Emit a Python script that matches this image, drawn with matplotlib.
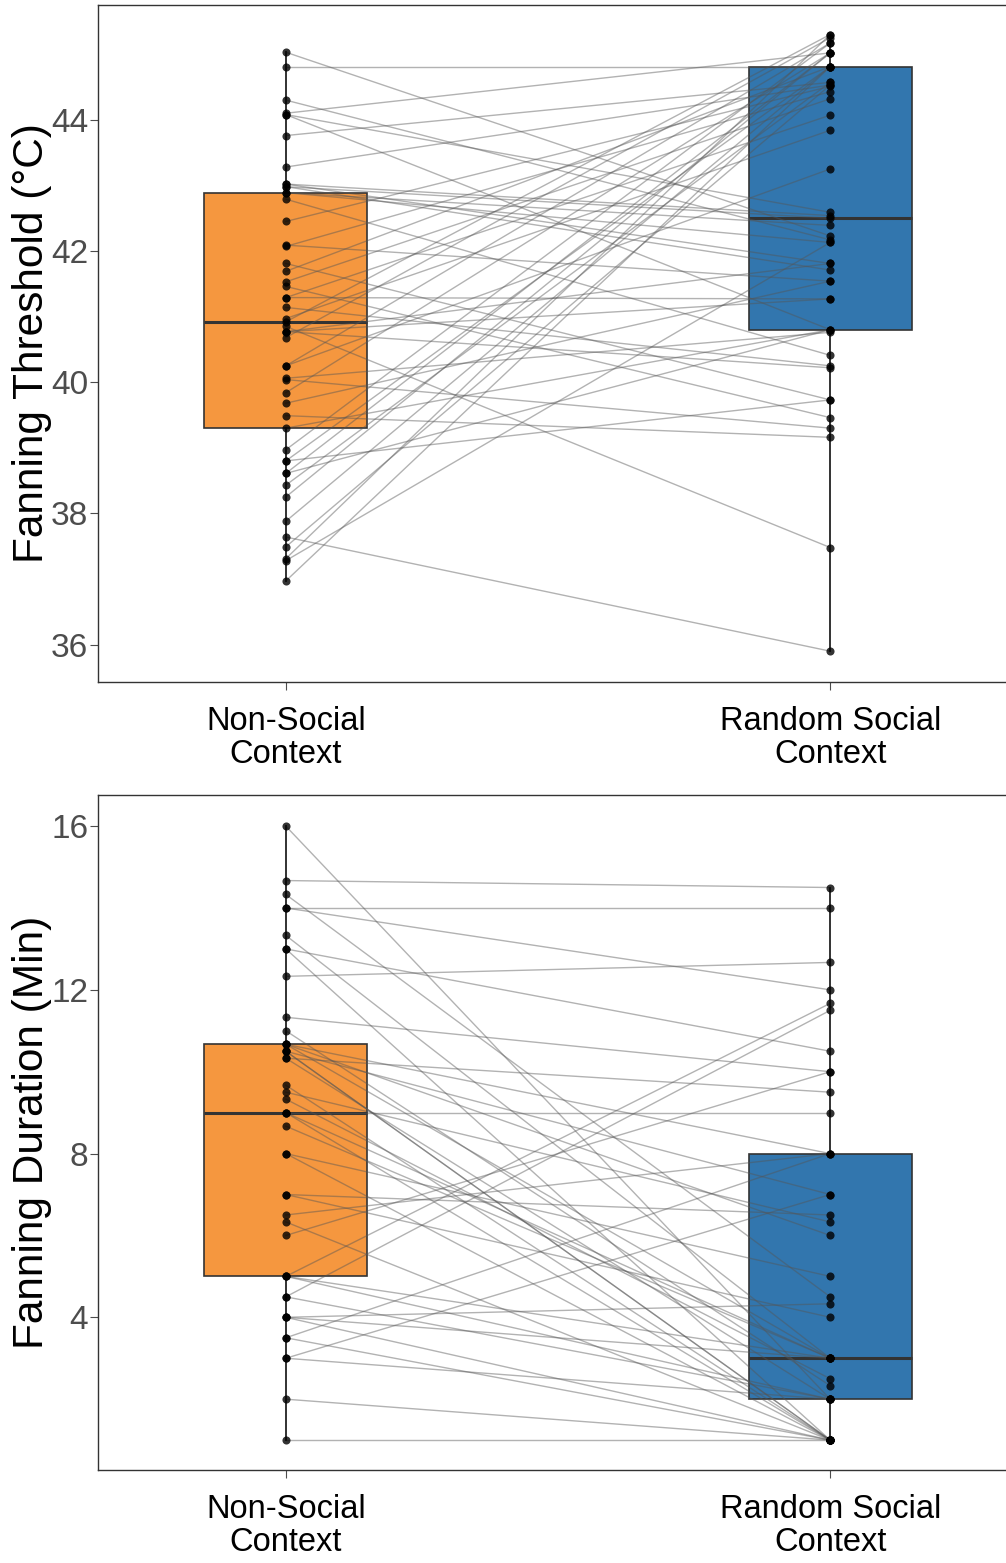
import numpy as np
import matplotlib.pyplot as plt

plt.rcParams['font.family'] = ['Liberation Sans', 'DejaVu Sans']

groups = ['Non-Social\nContext', 'Random Social\nContext']

# paired fanning thresholds (deg C): non-social vs random social, one entry per bee
thresh_nonsocial = [45.03, 44.81, 44.30, 44.10, 44.08, 44.08, 43.76, 43.28, 43.02, 43.02,
                    42.98, 42.98, 42.89, 42.89, 42.79, 42.45, 42.09, 42.07, 41.81, 41.69,
                    41.53, 41.46, 41.29, 41.29, 41.14, 40.97, 40.77, 40.92, 40.85, 40.77,
                    40.77, 40.68, 40.25, 40.25, 40.06, 40.04, 39.84, 39.68, 39.49, 39.30,
                    38.97, 38.80, 38.80, 38.61, 38.61, 38.43, 38.25, 37.88, 37.64, 37.49,
                    37.31, 37.28, 36.97]
thresh_random = [42.23, 44.81, 42.17, 45.02, 42.59, 40.80, 44.57, 44.53, 42.54, 41.81,
                 42.50, 41.71, 42.39, 42.13, 40.41, 44.51, 41.54, 44.43, 39.73, 44.81,
                 44.32, 39.46, 41.27, 44.07, 40.25, 43.84, 41.81, 45.30, 37.48, 40.22,
                 41.27, 45.25, 45.17, 43.25, 40.76, 39.30, 45.02, 41.54, 39.16, 40.80,
                 45.17, 44.81, 39.73, 45.02, 40.80, 44.57, 45.02, 44.81, 35.90, 44.53,
                 45.30, 42.13, 44.81]

# paired fanning durations (min)
dur_nonsocial = [16.0, 14.67, 14.33, 14.0, 14.0, 13.33, 13.0, 13.0, 12.33, 11.33,
                 10.67, 10.5, 11.0, 10.67, 10.67, 10.5, 10.5, 10.33, 10.33, 9.67,
                 9.5, 9.33, 9.0, 9.0, 8.67, 8.0, 8.0, 7.0, 7.0, 6.5,
                 6.33, 6.0, 5.0, 5.0, 5.0, 4.5, 4.5, 4.0, 4.0, 3.5,
                 3.5, 3.0, 3.0, 2.0, 1.0, 9.0, 4.0]
dur_random = [2.0, 14.5, 4.5, 14.0, 12.0, 3.0, 10.5, 1.0, 12.67, 10.0,
              6.0, 1.0, 2.33, 8.0, 3.0, 7.0, 1.0, 9.5, 2.0, 1.0,
              6.33, 2.5, 9.0, 1.0, 3.0, 1.0, 5.0, 6.5, 4.0, 8.0,
              1.0, 10.0, 11.67, 2.0, 3.0, 11.5, 2.0, 4.33, 1.0, 8.0,
              1.0, 7.0, 2.0, 1.0, 1.0, 3.0, 3.0]

box_colors = ['#F5973F', '#3276AE']


def draw_panel(ax, left, right, ylabel, ylim, yticks):
    # connecting lines for each individual
    for a, b in zip(left, right):
        ax.plot([1, 2], [a, b], color='#555555', alpha=0.45, lw=1, zorder=3)

    bp = ax.boxplot([left, right], positions=[1, 2], widths=0.3, patch_artist=True,
                    showfliers=False, showcaps=False, zorder=2,
                    medianprops=dict(color='#333333', lw=2.2),
                    whiskerprops=dict(color='#222222', lw=1.3),
                    boxprops=dict(edgecolor='#333333', lw=1.2))
    for patch, c in zip(bp['boxes'], box_colors):
        patch.set_facecolor(c)
    for med in bp['medians']:
        med.set_zorder(2.5)

    ax.scatter(np.ones(len(left)), left, s=34, color='black', alpha=0.8, lw=0, zorder=4)
    ax.scatter(np.full(len(right), 2), right, s=34, color='black', alpha=0.8, lw=0, zorder=4)

    ax.set_xlim(1 - 0.345, 2 + 0.345)
    ax.set_ylim(*ylim)
    ax.set_yticks(yticks)
    ax.set_xticks([1, 2])
    ax.set_xticklabels(groups, fontsize=23.5, color='black', linespacing=1.1)
    ax.tick_params(axis='y', labelsize=24, labelcolor='#4D4D4D', color='#4D4D4D',
                   length=6, pad=1)
    ax.tick_params(axis='x', color='#4D4D4D', length=6, pad=11)
    ax.set_ylabel(ylabel, fontsize=30.5)
    ax.yaxis.set_label_coords(-0.05, 0.5)
    for sp in ax.spines.values():
        sp.set_color('#333333')
        sp.set_linewidth(1)


fig = plt.figure(figsize=(10.06, 15.63), dpi=100)
W, H = 1006, 1563
ax1 = fig.add_axes([98 / W, 1 - 682 / H, (1018 - 98) / W, (682 - 5) / H])
ax2 = fig.add_axes([98 / W, 1 - 1470 / H, (1018 - 98) / W, (1470 - 795) / H])

draw_panel(ax1, thresh_nonsocial, thresh_random, 'Fanning Threshold (°C)',
           (35.43, 45.75), [36, 38, 40, 42, 44])
draw_panel(ax2, dur_nonsocial, dur_random, 'Fanning Duration (Min)',
           (0.27, 16.76), [4, 8, 12, 16])

fig.savefig('out.png', dpi=100)
